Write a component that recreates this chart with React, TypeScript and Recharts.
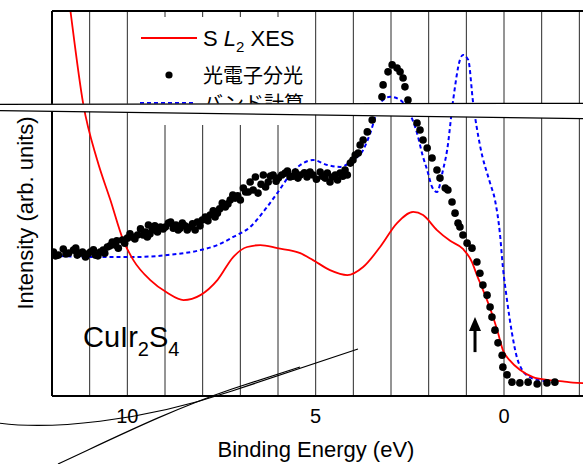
import React from 'react';
import { ComposedChart, Line, Scatter, XAxis, YAxis, CartesianGrid, ReferenceDot } from 'recharts';

const FONT = "'Liberation Sans', Arial, sans-serif";
const JP = "'Noto Sans CJK JP', 'Noto Sans CJK SC', sans-serif";
const RED = '#ff0000';
const BLUE = '#0000ff';

// S L2 XES (red line)
const xesData = [
  { e: 11.6, y: 107 }, { e: 11.51, y: 100 }, { e: 11.17, y: 75.8 }, { e: 10.8, y: 61.3 },
  { e: 10.45, y: 50.9 }, { e: 10.11, y: 40.5 }, { e: 9.84, y: 35.3 }, { e: 9.39, y: 30.1 },
  { e: 8.94, y: 26.8 }, { e: 8.51, y: 24.9 }, { e: 8.06, y: 26.2 }, { e: 7.61, y: 30.1 },
  { e: 7.19, y: 36.1 }, { e: 6.82, y: 38.7 }, { e: 6.47, y: 39.2 }, { e: 6.02, y: 38.4 },
  { e: 5.41, y: 37.1 }, { e: 5.07, y: 35.3 }, { e: 4.62, y: 32.7 }, { e: 4.16, y: 31.4 },
  { e: 3.74, y: 33.5 }, { e: 3.29, y: 38.7 }, { e: 2.84, y: 44.9 }, { e: 2.41, y: 47.8 },
  { e: 2.15, y: 47.0 }, { e: 1.78, y: 43.1 }, { e: 1.43, y: 40.3 }, { e: 1.09, y: 38.2 },
  { e: 0.85, y: 34.8 }, { e: 0.72, y: 31.4 }, { e: 0.58, y: 28.1 }, { e: 0.45, y: 24.9 },
  { e: 0.29, y: 20.5 }, { e: 0.16, y: 16.4 }, { e: 0.03, y: 11.9 }, { e: -0.16, y: 9.2 },
  { e: -0.42, y: 6.8 }, { e: -0.77, y: 4.9 }, { e: -1.14, y: 4.2 }, { e: -1.56, y: 3.8 },
  { e: -1.83, y: 3.5 }, { e: -2.15, y: 3.3 },
];

// Band calculation (blue dashed)
const bandData = [
  { e: 11.96, y: 36.4 }, { e: 10.72, y: 36.1 }, { e: 9.84, y: 36.1 }, { e: 8.94, y: 36.6 },
  { e: 8.06, y: 37.9 }, { e: 7.61, y: 39.2 }, { e: 7.19, y: 41.3 }, { e: 6.74, y: 43.9 },
  { e: 6.29, y: 49.1 }, { e: 6.02, y: 52.7 }, { e: 5.68, y: 57.4 }, { e: 5.41, y: 60.0 },
  { e: 5.07, y: 61.3 }, { e: 4.69, y: 60.0 }, { e: 4.35, y: 59.5 }, { e: 4.01, y: 61.3 },
  { e: 3.74, y: 63.9 }, { e: 3.55, y: 68.3 }, { e: 3.29, y: 76.1 }, { e: 3.02, y: 77.7 },
  { e: 2.76, y: 76.9 }, { e: 2.55, y: 74.3 }, { e: 2.31, y: 68.3 }, { e: 2.15, y: 62.1 },
  { e: 2.04, y: 58.7 }, { e: 1.91, y: 54.3 }, { e: 1.78, y: 53.0 }, { e: 1.62, y: 58.7 },
  { e: 1.51, y: 63.9 }, { e: 1.35, y: 76.9 }, { e: 1.17, y: 87.3 }, { e: 1.09, y: 88.6 },
  { e: 0.95, y: 87.3 }, { e: 0.82, y: 76.1 }, { e: 0.64, y: 65.2 }, { e: 0.37, y: 55.3 },
  { e: 0.24, y: 50.9 }, { e: 0.11, y: 42.3 }, { e: 0.03, y: 33.5 }, { e: -0.08, y: 24.9 },
  { e: -0.21, y: 16.4 }, { e: -0.34, y: 10.1 }, { e: -0.48, y: 6.8 }, { e: -0.69, y: 4.9 },
  { e: -0.88, y: 4.2 }, { e: -1.14, y: 3.9 },
];

// Photoemission (black dots)
const pesData = [
  { e: 11.96, y: 37.4 }, { e: 11.83, y: 36.6 }, { e: 11.7, y: 38.2 }, { e: 11.56, y: 37.1 },
  { e: 11.43, y: 37.9 }, { e: 11.33, y: 36.6 }, { e: 11.19, y: 37.4 }, { e: 11.11, y: 36.1 },
  { e: 10.98, y: 37.4 }, { e: 10.85, y: 36.6 }, { e: 10.72, y: 37.4 }, { e: 10.64, y: 37.9 },
  { e: 10.53, y: 38.7 }, { e: 10.4, y: 40.0 }, { e: 10.32, y: 39.2 }, { e: 10.24, y: 38.4 },
  { e: 10.13, y: 40.5 }, { e: 10.0, y: 41.0 }, { e: 9.87, y: 41.3 }, { e: 9.73, y: 41.8 },
  { e: 9.65, y: 43.4 }, { e: 9.52, y: 42.6 }, { e: 9.47, y: 41.3 }, { e: 9.44, y: 44.4 },
  { e: 9.34, y: 43.1 }, { e: 9.2, y: 42.6 }, { e: 9.12, y: 43.9 }, { e: 8.99, y: 43.9 },
  { e: 8.91, y: 44.9 }, { e: 8.78, y: 43.6 }, { e: 8.65, y: 43.1 }, { e: 8.54, y: 44.9 },
  { e: 8.41, y: 43.1 }, { e: 8.33, y: 43.9 }, { e: 8.2, y: 43.1 }, { e: 8.14, y: 45.2 },
  { e: 8.01, y: 45.7 }, { e: 7.93, y: 46.5 }, { e: 7.8, y: 47.0 }, { e: 7.67, y: 46.5 },
  { e: 7.61, y: 47.5 }, { e: 7.48, y: 50.1 }, { e: 7.4, y: 49.1 }, { e: 7.27, y: 50.9 },
  { e: 7.14, y: 51.4 }, { e: 7.0, y: 50.9 }, { e: 6.92, y: 54.0 }, { e: 6.79, y: 53.0 },
  { e: 6.74, y: 55.6 }, { e: 6.66, y: 53.5 }, { e: 6.6, y: 56.9 }, { e: 6.53, y: 52.7 },
  { e: 6.39, y: 57.4 }, { e: 6.26, y: 55.6 }, { e: 6.13, y: 57.4 }, { e: 5.99, y: 56.6 },
  { e: 5.81, y: 57.9 }, { e: 5.68, y: 56.9 }, { e: 5.54, y: 58.2 }, { e: 5.41, y: 57.4 },
  { e: 5.23, y: 56.9 }, { e: 5.07, y: 57.4 }, { e: 4.88, y: 58.2 }, { e: 4.75, y: 56.6 },
  { e: 4.62, y: 55.6 }, { e: 4.48, y: 57.4 }, { e: 4.35, y: 57.9 }, { e: 4.22, y: 58.7 },
  { e: 4.16, y: 57.4 }, { e: 4.08, y: 60.5 }, { e: 4.01, y: 61.3 }, { e: 3.95, y: 62.6 },
  { e: 3.87, y: 63.1 }, { e: 3.82, y: 65.2 }, { e: 3.74, y: 66.5 }, { e: 3.63, y: 68.6 },
  { e: 3.5, y: 71.7 }, { e: 3.37, y: 74.3 }, { e: 3.24, y: 77.7 }, { e: 3.21, y: 80.8 },
  { e: 3.08, y: 84.2 }, { e: 2.97, y: 86.0 }, { e: 2.84, y: 85.2 }, { e: 2.76, y: 84.2 },
  { e: 2.68, y: 82.6 }, { e: 2.63, y: 80.3 }, { e: 2.55, y: 76.9 }, { e: 2.49, y: 74.8 },
  { e: 2.41, y: 73.8 }, { e: 2.31, y: 70.9 }, { e: 2.23, y: 69.1 }, { e: 2.15, y: 66.5 },
  { e: 2.04, y: 64.4 }, { e: 1.91, y: 61.8 }, { e: 1.78, y: 58.7 }, { e: 1.7, y: 56.6 },
  { e: 1.56, y: 54.0 }, { e: 1.49, y: 53.5 }, { e: 1.38, y: 50.4 }, { e: 1.3, y: 47.5 },
  { e: 1.22, y: 44.9 }, { e: 1.17, y: 43.9 }, { e: 1.09, y: 41.8 }, { e: 0.98, y: 39.7 },
  { e: 0.85, y: 38.4 }, { e: 0.72, y: 34.8 }, { e: 0.64, y: 31.9 }, { e: 0.56, y: 28.8 },
  { e: 0.45, y: 26.2 }, { e: 0.37, y: 23.1 }, { e: 0.32, y: 20.5 }, { e: 0.24, y: 17.1 },
  { e: 0.16, y: 13.8 }, { e: 0.05, y: 10.6 }, { e: 0.03, y: 7.5 }, { e: -0.08, y: 5.5 },
  { e: -0.21, y: 3.6 }, { e: -0.42, y: 3.4 }, { e: -0.64, y: 3.6 }, { e: -0.88, y: 3.1 },
  { e: -1.14, y: 3.4 }, { e: -1.35, y: 3.6 },
  { e: 11.9, y: 36.4 }, { e: 11.63, y: 36.9 }, { e: 11.37, y: 38.4 }, { e: 11.25, y: 37.1 },
  { e: 11.05, y: 36.9 }, { e: 10.9, y: 38.0 }, { e: 10.78, y: 36.4 }, { e: 10.6, y: 37.1 },
  { e: 10.46, y: 39.0 }, { e: 10.28, y: 40.3 }, { e: 10.07, y: 39.7 }, { e: 9.93, y: 42.1 },
  { e: 9.8, y: 40.8 }, { e: 9.58, y: 41.8 }, { e: 9.4, y: 42.1 }, { e: 9.27, y: 44.2 },
  { e: 9.05, y: 43.4 }, { e: 8.85, y: 45.2 }, { e: 8.71, y: 44.4 }, { e: 8.6, y: 43.6 },
  { e: 8.47, y: 44.2 }, { e: 8.27, y: 44.7 }, { e: 8.07, y: 44.2 }, { e: 7.86, y: 45.5 },
  { e: 7.72, y: 48.1 }, { e: 7.55, y: 48.6 }, { e: 7.33, y: 49.9 }, { e: 7.2, y: 52.2 },
  { e: 7.07, y: 52.0 }, { e: 6.86, y: 53.0 }, { e: 6.45, y: 55.0 }, { e: 6.33, y: 54.3 },
  { e: 6.2, y: 57.1 }, { e: 6.05, y: 55.8 }, { e: 5.9, y: 57.4 }, { e: 5.75, y: 58.4 },
  { e: 5.6, y: 57.1 }, { e: 5.47, y: 56.6 }, { e: 5.3, y: 58.0 }, { e: 5.15, y: 58.2 },
  { e: 4.98, y: 56.3 }, { e: 4.82, y: 57.1 }, { e: 4.69, y: 57.9 }, { e: 4.55, y: 56.9 },
  { e: 4.42, y: 56.1 }, { e: 4.28, y: 57.1 },
];

const xTicks = [10, 5, 0];
const gridE = [11, 10, 9, 8, 7, 6, 5, 4, 3, 2, 1, 0, -1, -2];
const leftTicks = [6.73, 13.45, 20.18, 26.91, 33.64, 40.36, 47.09, 53.82, 60.55, 67.27, 74.0, 80.73, 87.45, 94.18];
const rightTicks = [8.8, 17.6, 26.4, 35.2, 44.0, 52.8, 61.6, 70.4, 79.2, 88.0, 96.8];
const arrowPos = { e: 0.77, y: 11.4 };

const legendLabels = { xes: 'XES', pes: '光電子分光', band: 'バンド計算' };

const Arrow = (p: any) => {
  const { cx, cy } = p;
  if (cx == null || cy == null) return null;
  return (
    <g>
      <line x1={cx} y1={cy} x2={cx} y2={cy - 22} stroke="#000" strokeWidth={3} />
      <polygon points={`${cx - 6},${cy - 21} ${cx + 6},${cy - 21} ${cx},${cy - 35}`} fill="#000" />
    </g>
  );
};

const Dot = (p: any) => <circle cx={p.cx} cy={p.cy} r={3.8} fill="#000" />;

export default function App() {
  return (
    <div style={{ position: 'absolute', left: 0, top: 0, width: 583, height: 464, overflow: 'hidden', background: '#fff' }}>
      <ComposedChart width={600} height={464} margin={{ top: 11, right: 15, bottom: 38, left: 52 }}>
        <CartesianGrid xAxisId="bottom" yAxisId="left" vertical horizontal={false} verticalValues={gridE} stroke="#2a2a2a" strokeWidth={1} />
        <XAxis
          xAxisId="bottom"
          dataKey="e"
          type="number"
          domain={[-2.15, 12]}
          reversed
          allowDataOverflow
          ticks={xTicks}
          tickLine={false}
          tickSize={6}
          tickMargin={7}
          height={30}
          axisLine={{ stroke: '#000', strokeWidth: 2 }}
          tick={{ fill: '#000', fontSize: 20, fontFamily: FONT }}
        />
        <XAxis
          xAxisId="top"
          orientation="top"
          dataKey="e"
          type="number"
          domain={[-2.15, 12]}
          reversed
          allowDataOverflow
          ticks={gridE}
          mirror
          tick={false}
          tickSize={5}
          tickLine={{ stroke: '#000', strokeWidth: 1 }}
          axisLine={{ stroke: '#000', strokeWidth: 2 }}
        />
        <YAxis
          yAxisId="left"
          dataKey="y"
          type="number"
          domain={[0, 100]}
          allowDataOverflow
          ticks={leftTicks}
          mirror
          tick={false}
          tickSize={5}
          tickLine={{ stroke: '#000', strokeWidth: 1 }}
          axisLine={{ stroke: '#000', strokeWidth: 2 }}
        />
        <YAxis
          yAxisId="right"
          orientation="right"
          type="number"
          domain={[0, 100]}
          ticks={rightTicks}
          mirror
          tick={false}
          tickSize={7}
          tickLine={{ stroke: '#000', strokeWidth: 1 }}
          axisLine={{ stroke: '#000', strokeWidth: 2 }}
        />
        <Line xAxisId="bottom" yAxisId="left" data={bandData} dataKey="y" type="monotone" stroke={BLUE} strokeWidth={2} strokeDasharray="4 3" dot={false} isAnimationActive={false} />
        <Line xAxisId="bottom" yAxisId="left" data={xesData} dataKey="y" type="monotone" stroke={RED} strokeWidth={1.8} dot={false} isAnimationActive={false} />
        <Scatter xAxisId="bottom" yAxisId="left" data={pesData} dataKey="y" shape={Dot} isAnimationActive={false} />
        <ReferenceDot xAxisId="bottom" yAxisId="left" x={arrowPos.e} y={arrowPos.y} shape={Arrow} />
      </ComposedChart>
      <svg width={583} height={464} style={{ position: 'absolute', left: 0, top: 0, pointerEvents: 'none' }}>
        {/* legend box */}
        <rect x={129} y={17} width={185} height={108} fill="#fff" />
        <line x1={141} y1={38} x2={197} y2={38} stroke={RED} strokeWidth={1.8} />
        <text x={203} y={46} fontFamily={FONT} fontSize={22} fill="#000">
          S <tspan fontStyle="italic">L</tspan>
          <tspan fontSize={15} dy={6}>2</tspan>
          <tspan dy={-6}> {legendLabels.xes}</tspan>
        </text>
        <circle cx={169} cy={75} r={3.6} fill="#000" />
        <text x={203} y={83} fontFamily={JP} fontSize={20} fill="#000">{legendLabels.pes}</text>
        <line x1={140} y1={103} x2={194} y2={103} stroke={BLUE} strokeWidth={2} strokeDasharray="4 3" />
        <text x={203} y={111} fontFamily={JP} fontSize={20} fill="#000">{legendLabels.band}</text>
        {/* sample label */}
        <text x={83} y={347} fontFamily={FONT} fontSize={29} fill="#000">
          CuIr<tspan fontSize={20} dy={9}>2</tspan><tspan dy={-9}>S</tspan><tspan fontSize={20} dy={9}>4</tspan>
        </text>
        {/* axis titles */}
        <text x={316} y={457} textAnchor="middle" fontFamily={FONT} fontSize={22} fill="#000">Binding Energy (eV)</text>
        <text transform="translate(33,213) rotate(-90)" textAnchor="middle" fontFamily={FONT} fontSize={22} fill="#000">Intensity (arb. units)</text>
        {/* broken strip */}
        <polygon points="-2,104 585,103 585,118.5 -2,110.5" fill="#fff" />
        <line x1={-2} y1={104.3} x2={585} y2={103.3} stroke="#000" strokeWidth={1.2} />
        <line x1={-2} y1={110.6} x2={585} y2={118.6} stroke="#000" strokeWidth={1.2} />
        {/* stray curves */}
        <path d="M -2 423 C 50 430, 140 422, 232 391 L 358 349" fill="none" stroke="#000" strokeWidth={1.2} />
        <path d="M 58 464 C 110 440, 170 410, 232 389 L 300 367" fill="none" stroke="#000" strokeWidth={1.2} />
      </svg>
    </div>
  );
}
